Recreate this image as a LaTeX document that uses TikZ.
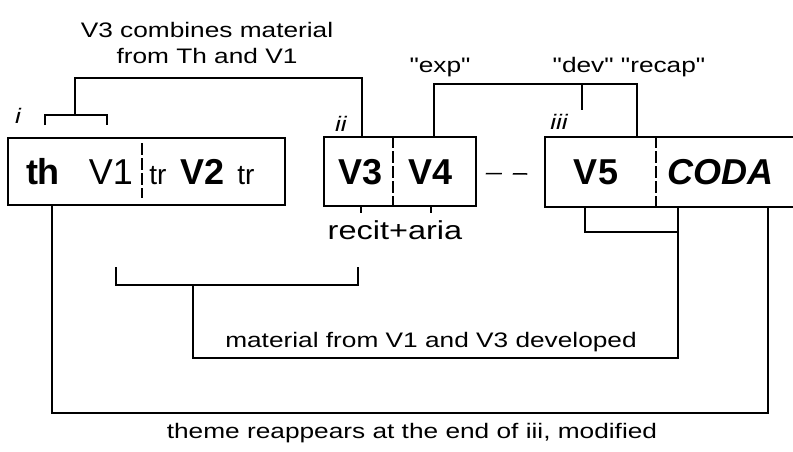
\documentclass[tikz,border=0pt]{standalone}
\usepackage{fontspec}
\setmainfont{Liberation Sans}
\newfontfamily\annotfont[FakeStretch=1.25]{Liberation Sans}
\tikzset{
  part/.style={draw,line width=1.5pt,inner sep=0pt},
  lbl/.style={anchor=base,inner sep=0pt,font=\fontsize{36}{40}\selectfont},
  boldlbl/.style={lbl,font=\bfseries\fontsize{36}{40}\selectfont},
  trlbl/.style={anchor=base,inner sep=0pt,font=\fontsize{28}{32}\selectfont},
  note/.style={anchor=base,inner sep=0pt,align=center,font=\annotfont\fontsize{21}{26}\selectfont},
  num/.style={anchor=base,inner sep=0pt,font=\annotfont\itshape\fontsize{21}{26}\selectfont},
  bracket/.style={line width=1.5pt},
  divider/.style={line width=1.5pt,dash pattern=on 12pt off 3pt}
}
\begin{document}
\begin{tikzpicture}[x=1pt,y=-1pt]
\clip (0,0) rectangle (793,451);
\node[part,minimum width=277pt,minimum height=67pt] (box1) at (146.5,171.5) {};
\node[part,minimum width=152pt,minimum height=69pt] (box2) at (400,171.5) {};
\node[part,minimum width=290pt,minimum height=70pt] (box3) at (690,172) {};
\draw[divider] (142,143)--(142,198);
\draw[divider] (393,0 |- box2.north)--(393,0 |- box2.south);
\draw[divider] (656,0 |- box3.north)--(656,0 |- box3.south);
\node[boldlbl] (th) at (43,184) {th};
\node[lbl] (vone) at (111,184) {V1};
\node[trlbl] (trA) at (158,184) {tr};
\node[boldlbl] (vtwo) at (203,184) {V2};
\node[trlbl] (trB) at (246,184) {tr};
\node[boldlbl] (vthree) at (361,184) {V3};
\node[boldlbl] (vfour) at (431,184) {V4};
\node[boldlbl] (vfive) at (596,184) {V5};
\node[lbl,font=\bfseries\itshape\fontsize{36}{40}\selectfont] (coda) at (720,184) {CODA};
\draw[line width=1.5pt,dash pattern=on 16pt off 11pt] ([xshift=9pt,yshift=-2pt]box2.east)--([xshift=-17pt,yshift=-2pt]box3.west);
\node[num] (ni) at (18,123) {i};
\node[num] (nii) at (341,131) {ii};
\node[num] (niii) at (559,129) {iii};
\node[note] (comb) at (207,63) {V3 combines material\\from Th and V1};
\node[note] (exp) at (440,72) {"exp"};
\node[note] (devrecap) at (629,72) {"dev" "recap"};
\node[note,font=\annotfont\fontsize{26}{30}\selectfont] (recit) at (395,239) {recit+aria};
\node[note] (devel) at (431,347) {material from V1 and V3 developed};
\node[note] (theme) at (412,438) {theme reappears at the end of iii, modified};
\draw[bracket] (45,125) |- (75,115) -| (107,125);
\draw[bracket] (75,115) |- (362,78) -- (362,0 |- box2.north);
\draw[bracket] (434,0 |- box2.north) |- (637,84) -- (637,0 |- box3.north);
\draw[bracket] (582,84) -- (582,110);
\draw[bracket] (vthree |- box2.south) -- ++(0,6);
\draw[bracket] (vfour |- box2.south) -- ++(0,6);
\draw[bracket] (116,267) |- (193,285) -| (358,267);
\draw[bracket] (193,285) |- (678,358) -- (678,0 |- box3.south);
\draw[bracket] (585,0 |- box3.south) |- (678,232);
\draw[bracket] (52,0 |- box1.south) |- (768,413) -- (768,0 |- box3.south);
\end{tikzpicture}
\end{document}
